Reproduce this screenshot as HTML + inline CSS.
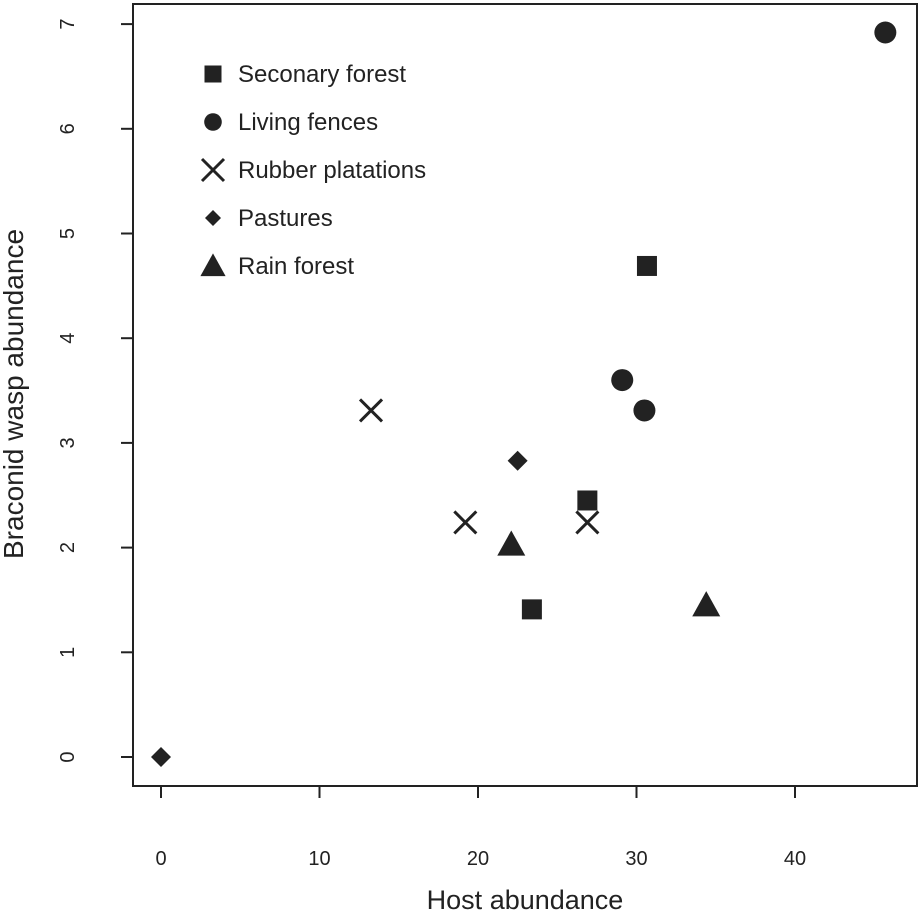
<!DOCTYPE html>
<html><head><meta charset="utf-8"><style>
body{margin:0;background:#fff;}
svg{display:block;font-family:"Liberation Sans",Arial,sans-serif;}
</style></head><body>
<svg id="chart" width="920" height="912" viewBox="0 0 920 912"></svg>
<script>
const xTicks=[0,10,20,30,40];
const yTicks=[0,1,2,3,4,5,6,7];
const seriesNames=["Seconary forest","Living fences","Rubber platations","Pastures","Rain forest"];
const seriesShapes=["square","circle","cross","diamond","triangle"];
const squareX=[30.66,26.9,23.4];
const squareY=[4.69,2.45,1.41];
const circleX=[45.7,29.1,30.5];
const circleY=[6.92,3.6,3.31];
const crossX=[13.25,19.2,26.9];
const crossY=[3.31,2.24,2.24];
const diamondX=[0,22.5];
const diamondY=[0,2.83];
const triangleX=[22.1,34.4];
const triangleY=[2.03,1.45];

const NS="http://www.w3.org/2000/svg";
const svg=document.getElementById('chart');
const L=133,T=4,R=917,B=786;
function sx(v){return 161+v*15.85;}
function sy(v){return 757-v*104.7;}
function el(tag,attrs,parent){const e=document.createElementNS(NS,tag);for(const k in attrs)e.setAttribute(k,attrs[k]);(parent||svg).appendChild(e);return e;}

const frame=el('rect',{x:L,y:T,width:R-L,height:B-T,fill:'none',stroke:'#222','stroke-width':2});



const xg=el('g',{});


xTicks.forEach(t=>{
  el('line',{x1:sx(t),x2:sx(t),y1:B,y2:B+12,stroke:'#222','stroke-width':2},xg);
  const tx=el('text',{x:sx(t),y:865,'text-anchor':'middle','font-size':20,fill:'#222'},xg);
  tx.textContent=t;
  
  
});
const yg=el('g',{});


yTicks.forEach(t=>{
  el('line',{x1:L,x2:L-12,y1:sy(t),y2:sy(t),stroke:'#222','stroke-width':2},yg);
  const tx=el('text',{x:74,y:sy(t),'text-anchor':'middle','font-size':20,fill:'#222',transform:`rotate(-90 74 ${sy(t)})`},yg);
  tx.textContent=t;
  
  
});
const xt=el('text',{x:525,y:909,'text-anchor':'middle','font-size':27,fill:'#222'});
xt.textContent='Host abundance';


const yt=el('text',{x:23,y:394,'text-anchor':'middle','font-size':28,fill:'#222',transform:'rotate(-90 23 394)'});
yt.textContent='Braconid wasp abundance';



function marker(shape,x,y,parent,scale){
  scale=scale||1;let e;
  if(shape==='square'){const s=20*scale;e=el('rect',{x:x-s/2,y:y-s/2,width:s,height:s,fill:'#222'},parent);}
  else if(shape==='circle'){e=el('circle',{cx:x,cy:y,r:11*scale,fill:'#222'},parent);}
  else if(shape==='cross'){const s=11*scale;e=el('path',{d:`M${x-s},${y-s}L${x+s},${y+s}M${x-s},${y+s}L${x+s},${y-s}`,stroke:'#222','stroke-width':3,fill:'none'},parent);}
  else if(shape==='diamond'){const s=10*scale;e=el('polygon',{points:`${x},${y-s} ${x+s},${y} ${x},${y+s} ${x-s},${y}`,fill:'#222'},parent);}
  else {const s=14*scale;e=el('polygon',{points:`${x},${y-s} ${x+s},${y+s*0.8} ${x-s},${y+s*0.8}`,fill:'#222'},parent);}
  return e;
}
const data=[[squareX,squareY],[circleX,circleY],[crossX,crossY],[diamondX,diamondY],[triangleX,triangleY]];
data.forEach((d,i)=>{
  const g=el('g',{});
  
  
  d[0].forEach((xv,j)=>{
    const m=marker(seriesShapes[i],sx(xv),sy(d[1][j]),g);
    
    
  });
});
const lg=el('g',{});


const legScale=[0.85,0.8,1,0.8,0.9];
seriesNames.forEach((n,i)=>{
  const y=74+i*48;
  const g=el('g',{},lg);
  
  
  marker(seriesShapes[i],213,y,g,legScale[i]);
  const t=el('text',{x:238,y:y+8,'font-size':24,fill:'#222'},g);
  t.textContent=n;
});
</script>
</body></html>
